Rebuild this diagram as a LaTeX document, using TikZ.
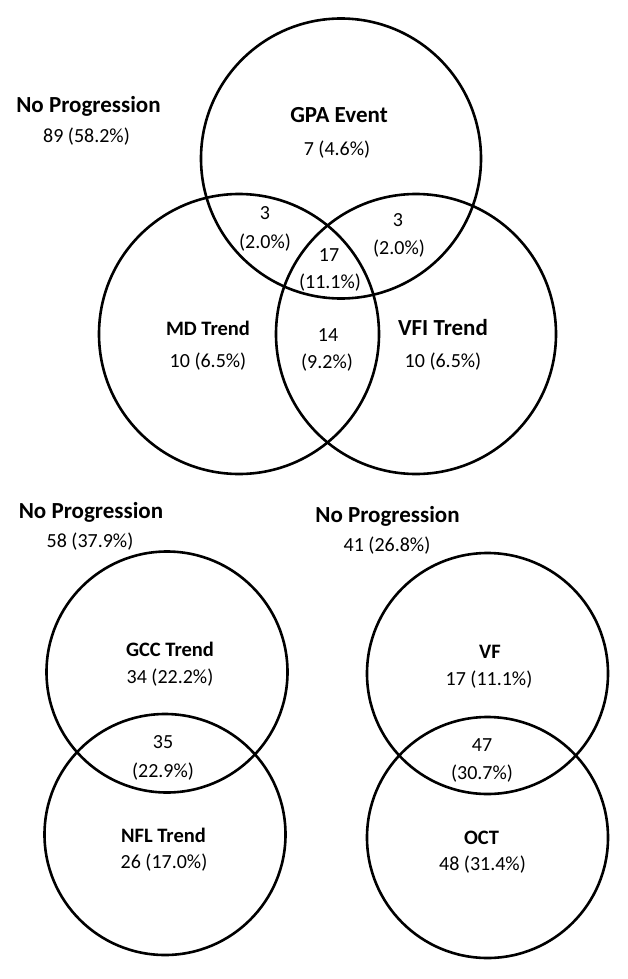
\documentclass[tikz,border=0pt]{standalone}
\usepackage{fontspec}
\setmainfont{Carlito}
\usetikzlibrary{positioning}
\tikzset{venn/.style={circle,draw=black,line width=2.6pt,inner sep=0pt,minimum size=#1},venn/.default=280pt,lab/.style={inner sep=0pt,font=\fontsize{#1}{#1}\selectfont\bfseries},lab/.default=20.5,num/.style={inner sep=0pt,font=\fontsize{20}{24}\selectfont}}
\begin{document}
\begin{tikzpicture}[x=1pt,y=-1pt]
\useasboundingbox (0,0) rectangle (628,979);
% top: GPA / MD / VFI
\node[venn] (gpa) at (341,158.5) {};
\node[venn] (md) at (239,334) {};
\node[venn] (vfi) at (416,334) {};
\node[lab=23] (np1) at (88.5,106) {No Progression};
\node[num] (np1n) at (86.5,137) {89 (58.2\%)};
\node[lab=23] (gpat) at (339,115) {GPA Event};
\node[num] (gpan) at (337,150) {7 (4.6\%)};
\node[num] (gm) at (265,213) {3};
\node[num] (gmp) at (265,242.5) {(2.0\%)};
\node[num] (gv) at (398,220) {3};
\node[num] (gvp) at (399,249) {(2.0\%)};
\node[num] (all) at (329,255) {17};
\node[num] (allp) at (330,283) {(11.1\%)};
\node[lab] (mdt) at (208,328) {MD Trend};
\node[num] (mdn) at (208,361.5) {10 (6.5\%)};
\node[num] (mv) at (328,335) {14};
\node[num] (mvp) at (327,363) {(9.2\%)};
\node[lab=23] (vfit) at (443,328) {VFI Trend};
\node[num] (vfin) at (443,361.5) {10 (6.5\%)};
% bottom left: GCC / NFL
\node[venn=241pt] (gcc) at (167,672) {};
\node[venn=241pt] (nfl) at (165,834.5) {};
\node[lab=23] (np2) at (91,512.5) {No Progression};
\node[num] (np2n) at (90,541.5) {58 (37.9\%)};
\node[lab] (gcct) at (170,649) {GCC Trend};
\node[num] (gccn) at (170,678) {34 (22.2\%)};
\node[num] (gn) at (163,742) {35};
\node[num] (gnp) at (163,772) {(22.9\%)};
\node[lab] (nflt) at (163.5,835) {NFL Trend};
\node[num] (nfln) at (164,863) {26 (17.0\%)};
% bottom right: VF / OCT
\node[venn=241pt] (vf) at (487.5,673.5) {};
\node[venn=241pt] (oct) at (487.5,837.5) {};
\node[lab=23] (np3) at (387.5,516.5) {No Progression};
\node[num] (np3n) at (387,546) {41 (26.8\%)};
\node[lab] (vft) at (490,652) {VF};
\node[num] (vfn) at (489,680) {17 (11.1\%)};
\node[num] (vo) at (482,745) {47};
\node[num] (vop) at (482,774) {(30.7\%)};
\node[lab] (octt) at (481.5,838) {OCT};
\node[num] (octn) at (482.5,865) {48 (31.4\%)};
\end{tikzpicture}
\end{document}
